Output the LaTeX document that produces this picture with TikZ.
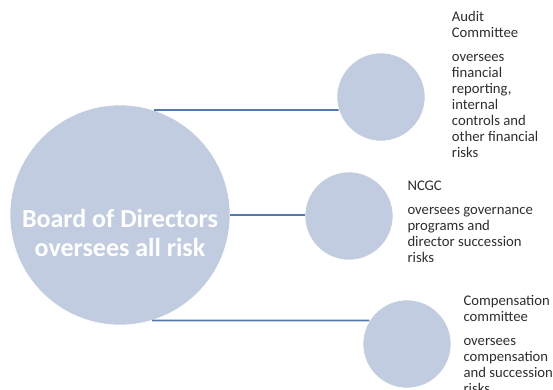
\documentclass[tikz,border=0pt]{standalone}
\usepackage{fontspec}
\setmainfont{Carlito}
\definecolor{circfill}{HTML}{C2CCE0}
\definecolor{linecol}{HTML}{5479AE}
\definecolor{txt}{HTML}{2E2E2E}
\begin{document}
\begin{tikzpicture}[x=1pt,y=-1pt,
  circ/.style={circle,fill=circfill,draw=white,line width=0.6pt,inner sep=0pt},
  conn/.style={draw=linecol,line width=1.8pt},
  desc/.style={anchor=north west,inner sep=0pt,align=left,text=txt,font=\fontsize{14.7}{16}\selectfont}]
\useasboundingbox (0,0) rectangle (553,389);
\node[circ,minimum size=220pt] (board) at (120,215) {};
\node[font=\bfseries\fontsize{26}{29}\selectfont,text=white,align=center,inner sep=0pt] (boardtext) at (120,233.4) {Board of Directors\\oversees all risk};
\node[circ,minimum size=88pt] (audit) at (381,97) {};
\node[circ,minimum size=88pt] (ncgc) at (349,216) {};
\node[circ,minimum size=88pt] (comp) at (407,344) {};
\node[desc] (audittext) at (451.7,11.2) {Audit\\Committee\\[8pt]oversees\\financial\\reporting,\\internal\\controls and\\other financial\\risks};
\node[desc] (ncgctext) at (407.3,180.5) {NCGC\\[8pt]oversees governance\\programs and\\director succession\\risks};
\node[desc] (comptext) at (463.3,294.8) {Compensation\\committee\\[8pt]oversees\\compensation\\and succession\\risks};
\draw[conn] (board.72.5) -- (audit.197);
\draw[conn] (board.east) -- (board.east -| ncgc.west);
\draw[conn] (board.287.5) -- (comp.148.5);
\end{tikzpicture}
\end{document}
